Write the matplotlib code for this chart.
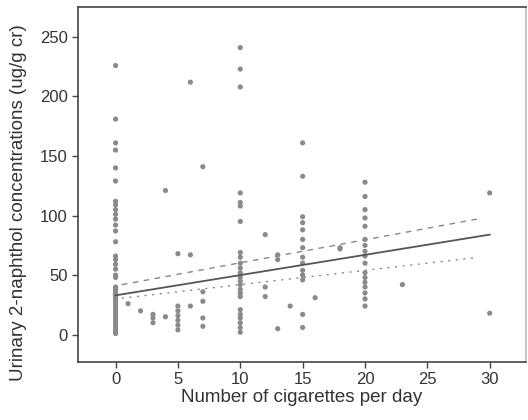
import numpy as np
import matplotlib
matplotlib.use('Agg')
import matplotlib.pyplot as plt
from matplotlib import font_manager

# cigarettes per day -> urinary 2-naphthol (ug/g cr)
pts = {
    0: [226, 181, 161, 155, 140, 129, 112, 109, 105, 101, 97, 92, 87, 78, 66, 63,
        59, 55, 50, 48, 40, 38, 36, 34, 32, 30, 28, 26, 24, 22, 20, 18, 16, 14,
        12, 10, 8, 6, 4, 2, 1],
    1: [26],
    2: [20],
    3: [17, 14, 10],
    4: [121, 15],
    5: [68, 24, 20, 16, 12, 8, 4],
    6: [212, 67, 24],
    7: [141, 36, 28, 14, 7],
    10: [241, 223, 208, 119, 111, 108, 95, 69, 65, 60, 56, 52, 48, 45, 42, 38,
         35, 32, 21, 17, 14, 10, 6, 2],
    12: [84, 40, 32],
    13: [67, 63, 5],
    14: [24],
    15: [161, 133, 99, 94, 88, 80, 73, 65, 60, 54, 50, 46, 17, 6],
    16: [31],
    18: [73, 72],
    20: [128, 116, 105, 98, 91, 80, 75, 70, 66, 60, 52, 48, 44, 40, 35, 30, 24],
    23: [42],
    30: [119, 18],
}
cigs = [k for k, v in pts.items() for _ in v]
naph = [y for v in pts.values() for y in v]

# fitted lines (start, end)
line_x = [0, 30]
fit_all = [33, 84]
fit_upper = [41, 99]
fit_lower = [30, 66]

# pick a narrow font if one is installed
names = {f.name for f in font_manager.fontManager.ttflist}
narrow = [n for n in ['Liberation Sans Narrow', 'DejaVu Sans Condensed',
                      'Arial Narrow'] if n in names]
if narrow:
    plt.rcParams['font.family'] = [narrow[0], 'DejaVu Sans']
    tick_fs, lab_fs = 13, 14
else:
    plt.rcParams['font.family'] = ['Liberation Sans', 'DejaVu Sans']
    tick_fs, lab_fs = 12, 13.5

fig = plt.figure(figsize=(5.28, 4.2), dpi=100)
ax = fig.add_axes([0.148, 0.138, 0.848, 0.845])

ax.scatter(cigs, naph, s=14, color='#8a8a8a', edgecolors='none', zorder=3)
ax.plot(line_x, fit_all, color='#555555', lw=1.3, zorder=4)
ax.plot([0.5, 29], np.interp([0.5, 29], line_x, fit_upper), color='#888888',
        lw=1.0, dashes=(4, 4), zorder=4)
ax.plot([0.5, 29], np.interp([0.5, 29], line_x, fit_lower), color='#888888',
        lw=1.0, dashes=(1.5, 4), zorder=4)

ax.set_xlim(-3, 32.9)
ax.set_ylim(-23, 275)
ax.set_xticks([0, 5, 10, 15, 20, 25, 30])
ax.set_yticks([0, 50, 100, 150, 200, 250])
ax.tick_params(direction='out', length=4, width=1, colors='#444444',
               labelsize=tick_fs, labelcolor='#333333')
for s in ax.spines.values():
    s.set_color('#444444')
    s.set_linewidth(1.2)
ax.spines['right'].set_color('#bbbbbb')

ax.set_xlabel('Number of cigarettes per day', fontsize=lab_fs, color='#333333',
              labelpad=1)
ax.set_ylabel('Urinary 2-naphthol concentrations (ug/g cr)', fontsize=lab_fs,
              color='#333333')
ax.yaxis.set_label_coords(-0.115, 0.45)

fig.savefig('out.png', dpi=100)
